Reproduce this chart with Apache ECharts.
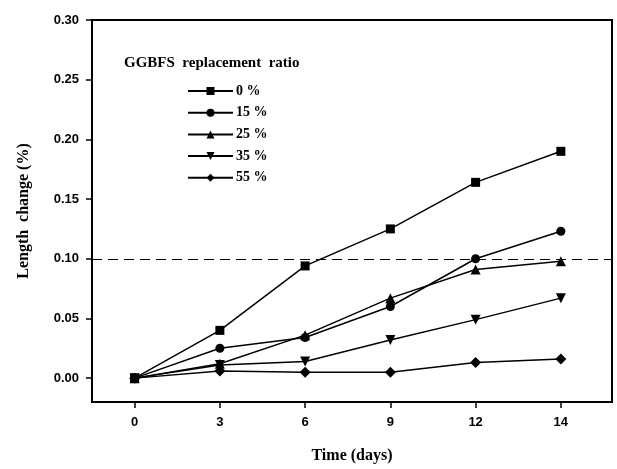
<!DOCTYPE html>
<html><head><meta charset="utf-8">
<script src="https://cdn.jsdelivr.net/npm/echarts@6/dist/echarts.min.js"></script>
<style>html,body{margin:0;padding:0;background:#fff}#c{width:617px;height:469px}</style>
</head><body><div id="c"></div>
<script>
const dayLabels = ['0','3','6','9','12','14'];
const yTicks = [0, 0.05, 0.10, 0.15, 0.20, 0.25, 0.30];
const seriesNames = ['0 %','15 %','25 %','35 %','55 %'];
const r0  = [0, 0.040, 0.094, 0.125, 0.164, 0.190];
const r15 = [0, 0.025, 0.034, 0.060, 0.100, 0.123];
const r25 = [0, 0.012, 0.036, 0.067, 0.091, 0.098];
const r35 = [0, 0.011, 0.014, 0.032, 0.049, 0.067];
const r55 = [0, 0.006, 0.005, 0.005, 0.013, 0.016];
const limitValue = 0.10;

const allValues = [r0, r15, r25, r35, r55];
const symbols = ['rect','circle','triangle','path://M0,0 L10,0 L5,9 Z','diamond'];
const sizes = [9, 9, 10, 10, 11];
const idx = dayLabels.map((d,i)=>i);

const serif = '"Liberation Serif","Times New Roman",serif';
const sans = '"Liberation Sans",Arial,sans-serif';

const series = allValues.map((vals, k) => ({
  name: seriesNames[k],
  type: 'line',
  data: vals.map((v,i)=>[idx[i], v]),
  symbol: symbols[k],
  symbolSize: sizes[k],
  itemStyle: {color:'#000'},
  lineStyle: {color:'#000', width: 1.5},
  z: 5 - k,
  markLine: k === 0 ? {
    silent: true, symbol: 'none', label: {show:false},
    lineStyle: {color:'#000', type:[10,6], width:1},
    data: [{yAxis: limitValue}]
  } : undefined
}));

const chart = echarts.init(document.getElementById('c'), null, {renderer:'canvas'});
chart.setOption({
  animation: false,
  backgroundColor: '#fff',
  title: {
    text: 'GGBFS  replacement  ratio',
    left: 119, top: 51,
    textStyle: {fontFamily: serif, fontWeight: 'bold', fontSize: 15, color:'#000'}
  },
  legend: {
    orient: 'vertical', left: 182, top: 79,
    itemWidth: 45, itemHeight: 10, itemGap: 7.7,
    data: seriesNames,
    textStyle: {fontFamily: serif, fontWeight: 'bold', fontSize: 14, color:'#000', padding:[0,0,0,-2]},
    inactiveColor: '#000'
  },
  grid: {left: 92, right: 5, top: 20, bottom: 64, show: true, borderColor:'#000', borderWidth: 2, containLabel: false},
  xAxis: {
    type: 'value', min: -0.5, max: 5.6,
    name: 'Time (days)', nameLocation: 'middle', nameGap: 46,
    nameTextStyle: {fontFamily: serif, fontWeight: 'bold', fontSize: 16, color:'#000'},
    axisLine: {onZero: false, lineStyle: {color:'#000', width: 2}},
    axisTick: {show: true, inside: false, length: 6, lineStyle:{width:1.5,color:'#000'}, customValues: idx},
    axisLabel: {customValues: idx, formatter: v => dayLabels[Math.round(v)], margin: 14,
      fontFamily: sans, fontWeight:'bold', fontSize: 13, color:'#000'},
    splitLine: {show:false}
  },
  yAxis: {
    type: 'value', min: -0.02, max: 0.30,
    name: 'Length  change (%)', nameLocation: 'middle', nameGap: 60, nameRotate: 90,
    nameTextStyle: {fontFamily: serif, fontWeight: 'bold', fontSize: 16, color:'#000'},
    axisLine: {show:true, onZero: false, lineStyle: {color:'#000', width: 2}},
    axisTick: {show: true, inside: false, length: 6, lineStyle:{width:1.5,color:'#000'}, customValues: yTicks},
    axisLabel: {customValues: yTicks, formatter: v => v.toFixed(2), margin: 13,
      fontFamily: sans, fontWeight:'bold', fontSize: 13, color:'#000'},
    splitLine: {show:false}
  },
  series: series
});
</script></body></html>
